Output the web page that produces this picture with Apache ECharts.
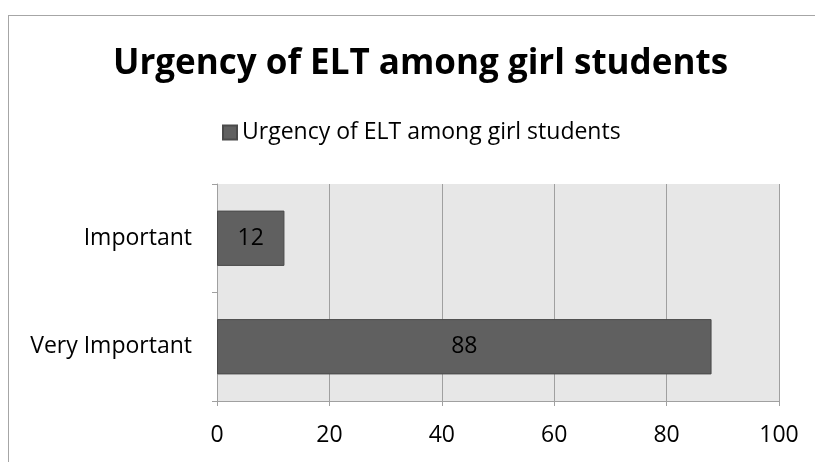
<!DOCTYPE html>
<html>
<head>
<meta charset="utf-8">
<script src="https://cdn.jsdelivr.net/npm/echarts@6/dist/echarts.min.js"></script>
<style>
  html, body { margin: 0; padding: 0; background: #fff; overflow: hidden; }
  #frame { position: absolute; left: 8px; top: 15px; width: 807px; height: 447px;
           border-left: 1px solid #a6a6a6; border-top: 1px solid #a6a6a6; }
  #main { position: absolute; left: 0; top: 0; width: 815px; height: 462px; }
</style>
</head>
<body>
<div id="frame"></div>
<div id="main"></div>
<script>
// 数据
const categories = ['Very Important', 'Important'];
const values = [88, 12];
const seriesName = 'Urgency of ELT among girl students';
const titleText = 'Urgency of ELT among girl students';

const chart = echarts.init(document.getElementById('main'));
const font = '"Open Sans", sans-serif';

const option = {
  animation: false,
  title: {
    text: titleText,
    left: 108,
    top: 42,
    textStyle: { fontFamily: font, fontSize: 35, fontWeight: 'bold', color: '#000' }
  },
  legend: {
    data: [seriesName],
    left: 217,
    top: 116,
    icon: 'rect',
    itemWidth: 14,
    itemHeight: 14,
    textStyle: { fontFamily: font, fontSize: 23, color: '#000' }
  },
  grid: {
    left: 217, right: 36, top: 184, bottom: 61,
    show: true, backgroundColor: '#e7e7e7', borderWidth: 0
  },
  xAxis: {
    type: 'value',
    min: 0, max: 100, interval: 20,
    axisLine: { show: true, lineStyle: { color: '#a0a0a0', width: 1 } },
    axisTick: { show: true, length: 5, lineStyle: { color: '#a0a0a0' } },
    splitLine: { show: true, lineStyle: { color: '#a0a0a0', width: 1 } },
    axisLabel: { margin: 23, fontFamily: font, fontSize: 23, color: '#000' }
  },
  yAxis: {
    type: 'category',
    data: categories,
    axisLine: { show: true, lineStyle: { color: '#a0a0a0', width: 1 } },
    axisTick: { show: true, length: 5, lineStyle: { color: '#a0a0a0' } },
    axisLabel: { margin: 25, fontFamily: font, fontSize: 23, color: '#000' }
  },
  series: [{
    name: seriesName,
    type: 'bar',
    data: values,
    barCategoryGap: '49%',
    itemStyle: { color: '#606060', borderColor: '#4a4a4a', borderWidth: 1 },
    label: { show: true, position: 'inside', fontFamily: font, fontSize: 23, color: '#000' }
  }]
};

chart.setOption(option);
</script>
</body>
</html>
